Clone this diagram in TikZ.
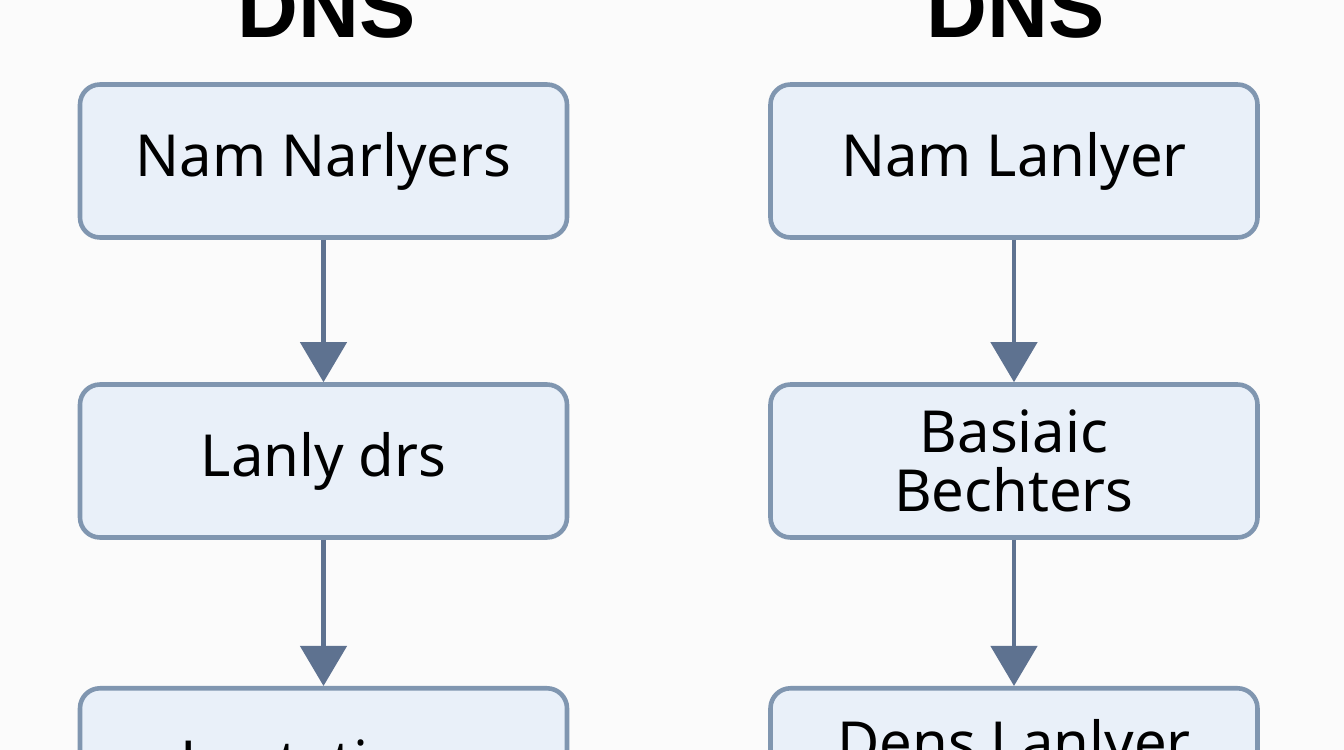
\documentclass[tikz,border=0pt]{standalone}
\usepackage{fontspec}
\setmainfont{Noto Sans}
\newfontfamily\titlefont{Liberation Sans}
\usetikzlibrary{positioning,arrows.meta}
\definecolor{boxfill}{HTML}{E9F0F9}
\definecolor{boxline}{HTML}{8096B0}
\definecolor{arrowcol}{HTML}{5E7290}
\tikzset{
  layer/.style={draw=boxline, fill=boxfill, line width=1.3pt, rounded corners=0.2cm,
    minimum width=4.87cm, minimum height=1.53cm, align=center,
    font=\fontsize{16.5}{17}\selectfont, text=black},
  flow/.style={draw=arrowcol, line width=1.3pt, -{Triangle[width=0.46cm,length=0.4cm]}},
  title/.style={font=\titlefont\fontsize{24}{26}\selectfont\bfseries}
}
\begin{document}
\begin{tikzpicture}
  \useasboundingbox (0,0) rectangle (13.44,7.5);
  \clip (0,0) rectangle (13.44,7.5);
  \fill[white!97!gray] (0,0) rectangle (13.44,7.5);
  % titles
  \node (t1) [title, anchor=base] at (3.27,7.12) {DNS};
  \node (t2) [title, anchor=base] at (10.16,7.12) {DNS};
  % left column
  \node (l1) [layer] at (3.235,5.89) {Nam Narlyers};
  \node (l2) [layer] at (3.235,2.89) {Lanly drs};
  \node (l3) [layer, anchor=north, minimum height=1.2cm, text depth=0.05cm] at (3.235,0.64) {\raisebox{-0.3cm}{Lentations}};
  % right column
  \node (r1) [layer] at (10.14,5.89) {Nam Lanlyer};
  \node (r2) [layer, font=\fontsize{16.5}{17}\selectfont] at (10.14,2.89) {Basiaic\\Bechters};
  \node (r3) [layer, anchor=north, minimum height=1.2cm] at (10.14,0.64) {\raisebox{-0.3cm}{Dens Lanlyer}};
  \draw[flow] (l1) -- (l2);
  \draw[flow] (l2) -- (l3);
  \draw[flow] (r1) -- (r2);
  \draw[flow] (r2) -- (r3);
\end{tikzpicture}
\end{document}
